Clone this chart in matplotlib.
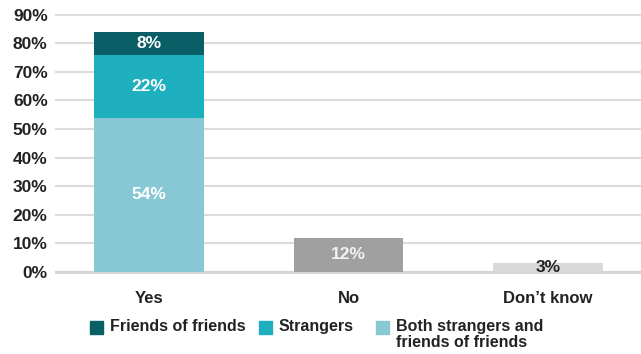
import matplotlib.pyplot as plt
from matplotlib.patches import Rectangle

categories = ["Yes", "No", "Don\u2019t know"]

# stacked parts of the "Yes" bar, bottom to top
yes_labels = ["Both strangers and\nfriends of friends", "Strangers", "Friends of friends"]
yes_values = [54, 22, 8]
yes_colors = ["#88c8d4", "#1fb0c0", "#0a5f66"]

other_values = [12, 3]
other_colors = ["#a0a0a0", "#d9d9d9"]
other_text_colors = ["#f2f2f2", "#222222"]

yticks = list(range(0, 91, 10))

plt.rcParams["font.family"] = ["Liberation Sans", "DejaVu Sans"]

fig = plt.figure(figsize=(6.41, 3.54), dpi=100)
ax = fig.add_axes([0.0874, 0.2316, 0.9126, 0.7269])

width = 0.55
bottom = 0
for val, col in zip(yes_values, yes_colors):
    ax.bar(0, val, width, bottom=bottom, color=col, zorder=3)
    ax.text(0, bottom + val / 2, f"{val}%", ha="center", va="center",
            color="white", fontsize=12.5, fontweight="bold", zorder=4)
    bottom += val

for i, (val, col, tc) in enumerate(zip(other_values, other_colors, other_text_colors)):
    ax.bar(i + 1, val, width, color=col, zorder=3)
    ax.text(i + 1, val / 2, f"{val}%", ha="center", va="center",
            color=tc, fontsize=12.5, fontweight="bold", zorder=4)

ax.set_xlim(-0.466, 2.466)
ax.set_ylim(0, 90)
ax.set_yticks(yticks)
ax.set_yticklabels([f"{t}%" for t in yticks], fontsize=12.5, fontweight="bold", color="#222222")
ax.set_xticks(range(len(categories)))
ax.set_xticklabels(categories, fontsize=12, fontweight="bold", color="#222222")
ax.tick_params(length=0, axis="y", pad=6)
ax.tick_params(length=0, axis="x", pad=14)
for s in ax.spines.values():
    s.set_visible(False)
ax.grid(axis="y", color="#dcdcdc", linewidth=1.5, zorder=0)
for gl in ax.get_ygridlines():
    gl.set_clip_on(False)
ax.axhline(0, color="#d4d4d4", linewidth=2, zorder=2, clip_on=False)

# legend drawn by hand so the wrapped label lines up like the original
legend_items = list(zip(yes_labels[::-1], yes_colors[::-1]))
sq_x = [90, 259, 376]
sq_w = 13 / 641
sq_h = 13 / 354
y_px = 327
for (lab, col), x in zip(legend_items, sq_x):
    fig.patches.append(Rectangle((x / 641, 1 - (y_px + 6.5) / 354), sq_w, sq_h,
                                 transform=fig.transFigure, color=col))
    fig.text((x + 20) / 641, 1 - (y_px - 8) / 354, lab, ha="left", va="top",
             fontsize=11.5, fontweight="bold", color="#222222", linespacing=1.1)

fig.savefig("out.png", dpi=100)
